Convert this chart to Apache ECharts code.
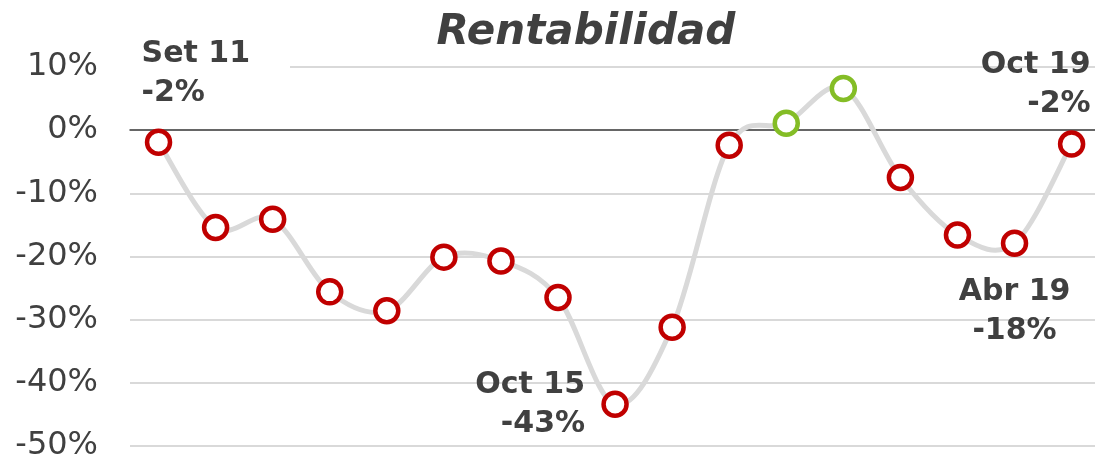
<!DOCTYPE html>
<html>
<head>
<meta charset="utf-8">
<script src="https://cdn.jsdelivr.net/npm/echarts@6/dist/echarts.min.js"></script>
<style>
  html, body { margin: 0; padding: 0; background: #fff; }
  #main { width: 1095px; height: 462px; }
</style>
</head>
<body>
<div id="main"></div>
<script>
// semestres, de Set 11 a Oct 19
const categories = ["Set 11", "Abr 12", "Oct 12", "Abr 13", "Oct 13", "Abr 14", "Oct 14", "Abr 15",
  "Oct 15", "Abr 16", "Oct 16", "Abr 17", "Oct 17", "Abr 18", "Oct 18", "Abr 19", "Oct 19"];
// rentabilidad en %
const values = [-1.9, -15.4, -14.1, -25.6, -28.6, -20.1, -20.7, -26.5, -43.4, -31.2, -2.4, 1.1, 6.6, -7.5, -16.6, -17.9, -2.2];
const yTicks = [-50, -40, -30, -20, -10, 0, 10];

const RED = "#c00000";
const GREEN = "#84bd26";
const TXT = "#404040";
const labelFont = { fontFamily: "DejaVu Sans", fontWeight: "bold", fontSize: 30, lineHeight: 39, color: TXT };

// etiquetas destacadas
const callouts = {
  0: { align: "left", offset: [-32, -68], backgroundColor: "#fff", padding: [2, 40, 2, 15] },
  8: { align: "right", offset: [-30, 0] },
  15: { align: "center", offset: [0, 68] },
  16: { align: "right", offset: [19, -59] },
};

const data = values.map((v, i) => {
  const item = {
    value: [i, v],
    itemStyle: { borderColor: v >= 0 ? GREEN : RED },
  };
  if (callouts[i]) {
    item.label = Object.assign({
      show: true,
      position: "inside",
      verticalAlign: "middle",
      formatter: categories[i] + "\n" + Math.round(v) + "%",
    }, labelFont, callouts[i]);
  }
  return item;
});

// curva suavizada tipo Excel (Catmull-Rom -> Bezier)
function renderCurve(params, api) {
  if (params.dataIndex !== 0) return null;
  const pts = values.map((v, i) => api.coord([i, v]));
  let d = "M" + pts[0][0] + " " + pts[0][1];
  for (let i = 0; i < pts.length - 1; i++) {
    const p0 = pts[Math.max(i - 1, 0)];
    const p1 = pts[i];
    const p2 = pts[i + 1];
    const p3 = pts[Math.min(i + 2, pts.length - 1)];
    const c1 = [p1[0] + (p2[0] - p0[0]) / 6, p1[1] + (p2[1] - p0[1]) / 6];
    const c2 = [p2[0] - (p3[0] - p1[0]) / 6, p2[1] - (p3[1] - p1[1]) / 6];
    d += " C" + c1.join(" ") + " " + c2.join(" ") + " " + p2.join(" ");
  }
  return {
    type: "path",
    shape: { pathData: d },
    style: { fill: "none", stroke: "#d9d9d9", lineWidth: 5 },
  };
}

const chart = echarts.init(document.getElementById("main"));
chart.setOption({
  animation: false,
  title: {
    text: "Rentabilidad",
    left: 581,
    top: 7,
    textAlign: "center",
    textStyle: { fontFamily: "DejaVu Sans", fontStyle: "italic", fontWeight: "bold", fontSize: 42, color: TXT },
  },
  grid: { left: 130, right: 0, top: 67, bottom: 12 },
  xAxis: {
    type: "value",
    // el área de trazado sigue más allá del borde derecho
    min: -0.5,
    max: 16.41,
    axisLine: { show: true, onZero: true, lineStyle: { color: TXT, width: 1.5 } },
    axisTick: { show: false },
    axisLabel: { show: false },
    splitLine: { show: false },
  },
  yAxis: {
    type: "value",
    min: yTicks[0],
    max: yTicks[yTicks.length - 1],
    interval: 10,
    axisLine: { show: false },
    axisTick: { show: false },
    axisLabel: { formatter: "{value}%", fontFamily: "DejaVu Sans", fontSize: 32, color: TXT, margin: 32 },
    splitLine: { lineStyle: { color: "#d9d9d9", width: 2 } },
  },
  series: [
    {
      type: "custom",
      renderItem: renderCurve,
      data: values.map((v, i) => [i, v]),
      z: 2,
      silent: true,
    },
    {
      type: "scatter",
      data: data,
      symbol: "circle",
      symbolSize: 23,
      itemStyle: { color: "#fff", borderWidth: 4.5, opacity: 1 },
      emphasis: { disabled: true },
      z: 3,
    },
  ],
});
window.onresize = () => chart.resize();
</script>
</body>
</html>
